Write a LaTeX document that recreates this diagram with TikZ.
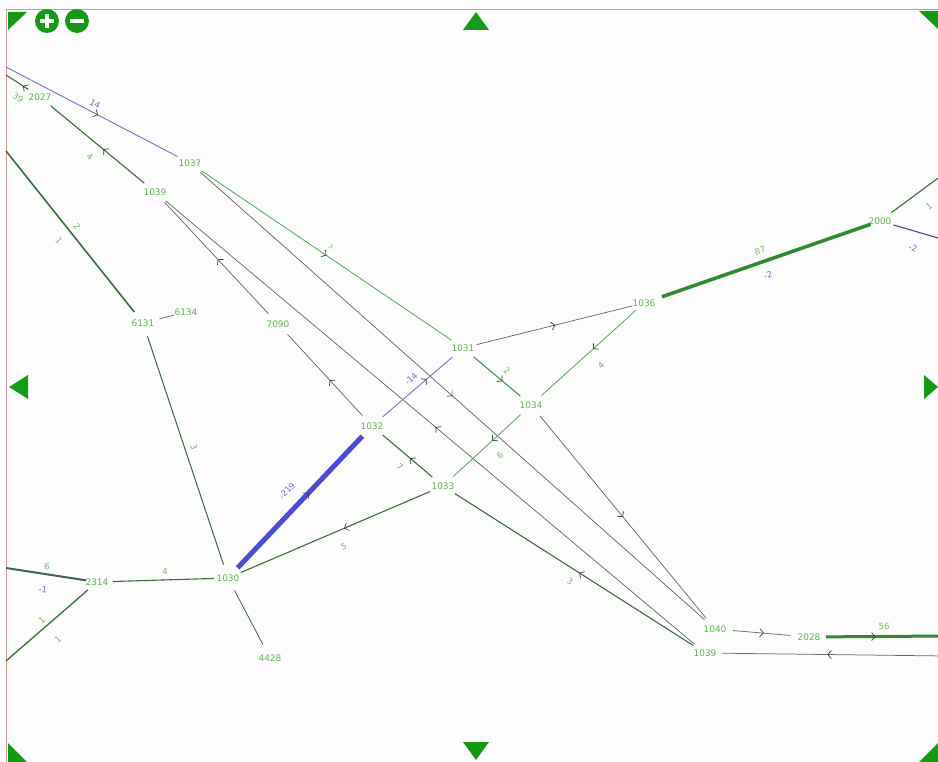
\documentclass[tikz,border=0pt]{standalone}
\usepackage{fontspec}
\setmainfont{DejaVu Sans}
\usetikzlibrary{arrows.meta,decorations.markings}
\definecolor{bg}{HTML}{FCFCFC}
\definecolor{navg}{HTML}{159A15}
\definecolor{framec}{HTML}{D49A9A}
\definecolor{nodec}{HTML}{5DB54F}
\definecolor{lblg}{HTML}{6DBE5E}
\definecolor{lblp}{HTML}{7272C4}
\definecolor{gy}{HTML}{6A6A6A}
\definecolor{dk}{HTML}{3A6E3A}
\definecolor{lg}{HTML}{4FA84F}
\definecolor{pu}{HTML}{7474C8}
\definecolor{bl}{HTML}{4B4BD6}
\definecolor{tg}{HTML}{2E8B2E}
\definecolor{nv}{HTML}{4A4A8A}
\definecolor{arrc}{HTML}{3C3C3C}
\begin{document}
\begin{tikzpicture}[x=1pt,y=-1pt,
  nd/.style={text=nodec,font=\fontsize{9}{10}\selectfont,inner sep=0pt},
  lb/.style={text=lblg,font=\fontsize{8.5}{10}\selectfont,inner sep=0pt},
  lbp/.style={lb,text=lblp},
  ed/.style={shorten <=14pt,shorten >=14pt},
  gyE/.style={ed,draw=gy,line width=0.75pt},
  dkE/.style={ed,draw=dk,line width=1.1pt},
  lgE/.style={ed,draw=lg,line width=0.8pt},
  puE/.style={ed,draw=pu,line width=0.9pt},
  mid/.style={postaction={decorate},decoration={markings,mark=at position #1 with {\arrow{Straight Barb[length=3.5pt,width=8pt,line width=0.7pt,color=arrc]}}}},
  navtri/.style={fill=navg}
]
\fill[bg] (0,0) rectangle (938,762);
\useasboundingbox (0,0) rectangle (938,762);
\draw[framec,line width=0.8pt] (6,762) -- (6,9) -- (938,9);

% nodes
\node[nd] (n2027) at (40,97) {2027};
\node[nd] (n1037) at (190,163) {1037};
\node[nd] (n1039a) at (155,192) {1039};
\node[nd] (n6131) at (143,323) {6131};
\node[nd] (n6134) at (186,312) {6134};
\node[nd] (n7090) at (278,324) {7090};
\node[nd] (n1031) at (463,348) {1031};
\node[nd] (n1036) at (644,303) {1036};
\node[nd] (n2000) at (880,221) {2000};
\node[nd] (n1034) at (531,405) {1034};
\node[nd] (n1032) at (372,426) {1032};
\node[nd] (n1033) at (443,486) {1033};
\node[nd] (n1030) at (228,578) {1030};
\node[nd] (n2314) at (97,582) {2314};
\node[nd] (n4428) at (270,658) {4428};
\node[nd] (n1040) at (715,629) {1040};
\node[nd] (n2028) at (809,637) {2028};
\node[nd] (n1039b) at (705,653) {1039};

% free ends
\coordinate (o1) at (6,67);
\coordinate (o2) at (6,75);
\coordinate (o3) at (6,151);
\coordinate (o4) at (945,173);
\coordinate (o5) at (945,240);
\coordinate (o6) at (6,568);
\coordinate (o7) at (6,661);
\coordinate (o8) at (945,636);
\coordinate (o9) at (945,656);

% edges
\draw[puE,shorten <=0pt,mid=0.5] (o1) -- (n1037.center);
\draw[dkE,shorten >=0pt,mid=0.5] (n2027.center) -- (o2);
\draw[dkE,mid=0.45] (n1039a.center) -- (n2027.center);
\draw[dkE,line width=1.6pt,shorten <=0pt] (o3) -- (n6131.center);
\draw[gyE,shorten <=17pt,shorten >=12pt] (n6131.center) -- (n6134.center);
\draw[dkE] (n6131.center) -- (n1030.center);
\draw[gyE,mid=0.49] (n7090.center) -- (n1039a.center);
\draw[gyE,mid=0.45] (n1032.center) -- (n7090.center);
\draw[gyE,mid=0.49] (n1039b.center) -- (n1039a.center);
\draw[gyE,mid=0.5] (n1037.center) -- (n1040.center);
\draw[lgE,mid=0.5] (n1037.center) -- (n1031.center);
\draw[gyE,shorten >=12pt,mid=0.51] (n1031.center) -- (n1036.center);
\draw[dkE,draw=lg!70!dk,mid=0.58] (n1031.center) -- (n1034.center);
\draw[puE,mid=0.6] (n1032.center) -- (n1031.center);
\draw[lgE,shorten <=11pt,mid=0.45] (n1036.center) -- (n1034.center);
\draw[lgE,mid=0.44] (n1034.center) -- (n1033.center);
\draw[dkE,mid=0.46] (n1033.center) -- (n1032.center);
\draw[gyE,mid=0.5] (n1034.center) -- (n1040.center);
\draw[ed,draw=bl,line width=5pt,mid=0.56] (n1030.center) -- (n1032.center);
\draw[dkE,mid=0.46] (n1033.center) -- (n1030.center);
\draw[dkE,mid=0.48] (n1039b.center) -- (n1033.center);
\draw[ed,draw=tg,line width=3.5pt,shorten <=19pt,shorten >=10pt] (n1036.center) -- (n2000.center);
\draw[dkE,shorten >=0pt] (n2000.center) -- (o4);
\draw[dkE,draw=nv,shorten >=0pt] (n2000.center) -- (o5);
\draw[dkE,shorten <=16pt] (n2314.center) -- (n1030.center);
\draw[dkE,line width=0.8pt,shorten >=15pt] (n1030.center) -- (n4428.center);
\draw[dkE,draw=nv!50!dk,line width=2pt,shorten <=0pt,shorten >=11pt] (o6) -- (n2314.center);
\draw[dkE,draw=dk!80!lg,line width=1.4pt,shorten >=0pt,shorten <=12pt] (n2314.center) -- (o7);
\draw[gyE,shorten <=18pt,shorten >=19pt,mid=0.52] (n1040.center) -- (n2028.center);
\draw[ed,draw=tg,line width=3pt,shorten <=17pt,shorten >=0pt,mid=0.49] (n2028.center) -- (o8);
\draw[gyE,shorten <=0pt,shorten >=17pt,mid=0.49] (o9) -- (n1039b.center);

% edge labels
\node[lbp,rotate=-27] (l1) at (95,104) {14};
\node[lb,rotate=-32] (l2) at (18,98) {39};
\node[lb,rotate=-40] (l3) at (90,157) {4};
\node[lb,rotate=-51] (l4) at (59,241) {1};
\node[lb,rotate=-51] (l5) at (77,227) {2};
\node[lb,rotate=-71] (l6) at (194,447) {3};
\node[lb,rotate=-34,font=\fontsize{6}{7}\selectfont] (l7) at (331,247) {3};
\node[lb,rotate=-40] (l8) at (507,371) {2};
\node[lbp,rotate=41] (l9) at (411,379) {-14};
\node[lb,rotate=42] (l10) at (601,365) {4};
\node[lb,rotate=43] (l11) at (500,455) {6};
\node[lb,rotate=-40] (l12) at (400,467) {7};
\node[lb,rotate=19] (l13) at (760,251) {87};
\node[lbp,rotate=19] (l14) at (768,275) {-2};
\node[lb,rotate=35] (l15) at (929,206) {1};
\node[lbp,rotate=-20] (l16) at (913,248) {-2};
\node[lbp,rotate=46] (l17) at (287,491) {-219};
\node[lb,rotate=23] (l18) at (344,547) {5};
\node[lb] (l19) at (165,571) {4};
\node[lb,rotate=-7] (l20) at (47,567) {6};
\node[lbp,rotate=-7] (l21) at (43,590) {-1};
\node[lb,rotate=41] (l22) at (42,620) {1};
\node[lb,rotate=41] (l23) at (58,639) {1};
\node[lb,rotate=-32] (l24) at (570,581) {3};
\node[lb] (l25) at (884,626) {56};

% navigation controls
\fill[navtri] (8,12) -- (27,12) -- (8,30) -- cycle;
\fill[navg] (47,21) circle[radius=12pt];
\draw[white,line width=3.2pt] (40,21) -- (54,21) (47,14) -- (47,28);
\fill[navg] (77,21) circle[radius=12pt];
\draw[white,line width=3.2pt] (70,21) -- (84,21);
\fill[navtri] (476,12) -- (489,30) -- (463,30) -- cycle;
\fill[navtri] (919,11) -- (938,11) -- (938,29) -- cycle;
\fill[navtri] (9,387) -- (28,375) -- (28,399) -- cycle;
\fill[navtri] (938,387) -- (924,375) -- (924,399) -- cycle;
\fill[navtri] (463,742) -- (489,742) -- (476,760) -- cycle;
\fill[navtri] (8,743) -- (8,762) -- (27,762) -- cycle;
\fill[navtri] (938,743) -- (938,762) -- (919,762) -- cycle;
\end{tikzpicture}
\end{document}
